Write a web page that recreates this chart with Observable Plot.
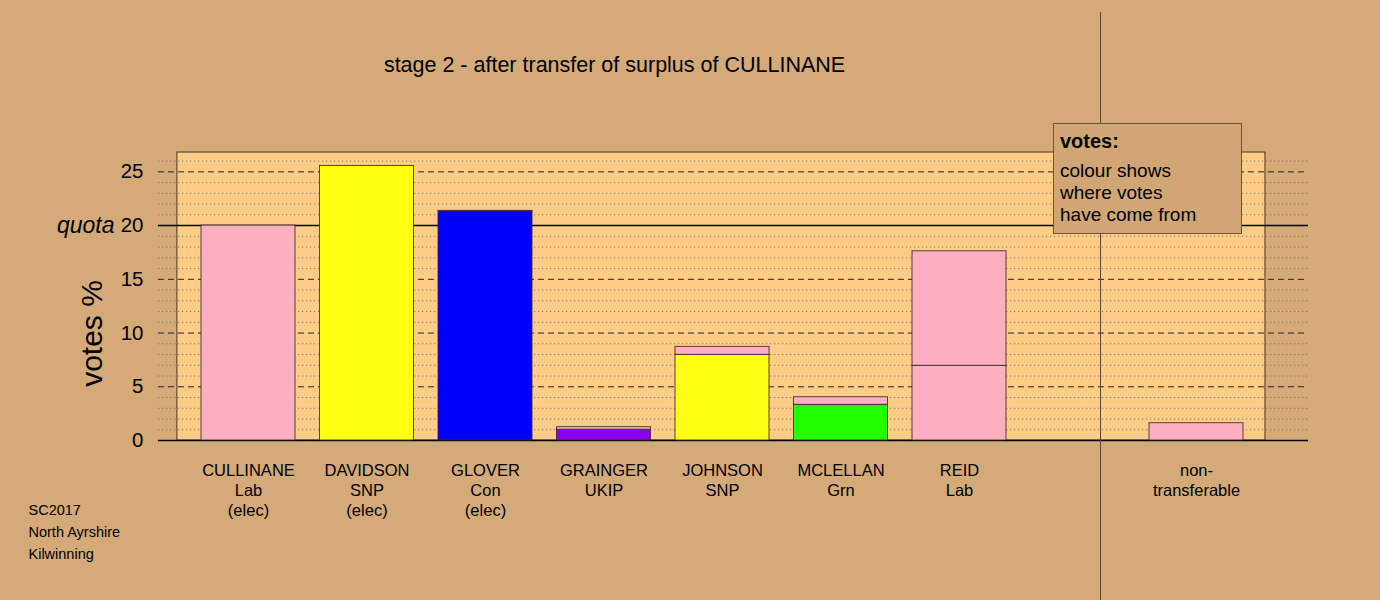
<!DOCTYPE html>
<html><head><meta charset="utf-8">
<script src="https://cdn.jsdelivr.net/npm/d3@7"></script>
<script src="https://cdn.jsdelivr.net/npm/@observablehq/plot@0.6"></script>
<style>
body{margin:0;background:#D4AA78;}
#wrap{position:relative;width:1380px;height:600px;overflow:hidden;}
#legend{position:absolute;left:1053px;top:123px;}
</style></head><body><div id="wrap"></div>
<script>
const title = "stage 2 - after transfer of surplus of CULLINANE";
const candidates = ["CULLINANE","DAVIDSON","GLOVER","GRAINGER","JOHNSON","MCLELLAN","REID","non-"];
const parties = ["Lab","SNP","Con","UKIP","SNP","Grn","Lab","transferable"];
const elected = [true,true,true,false,false,false,false,false];
const positions = [1,2,3,4,5,6,7,9];
const ownVotes = [20.0,25.55,21.33,1.0,7.97,3.32,6.95,0];
const transferVotes = [0,0,0.04,0.24,0.74,0.71,10.66,1.61];
const ownColours = ["#FFB0C0","#FFFF11","#0000FF","#8800EE","#FFFF11","#22FF00","#FFB0C0","#FFB0C0"];
const transferColour = "#FFB0C0";
const yTicks = [0,5,10,15,20,25];
const quota = 20;
const yMinorGrid = [1,2,3,4,6,7,8,9,11,12,13,14,16,17,18,19,21,22,23,24,26];
const yDashedGrid = [5,10,15,25];
const ySolidGrid = [0,20];
const dividerPos = 8.19;
const caption = ["SC2017","North Ayrshire","Kilwinning"];
const legendTitle = "votes:";
const legendLines = ["colour shows","where votes","have come from"];

const segments = [];
candidates.forEach((c,i)=>{
  if (ownVotes[i] > 0) segments.push({x: positions[i], y1: 0, y2: ownVotes[i], fill: ownColours[i]});
  if (transferVotes[i] > 0) segments.push({x: positions[i], y1: ownVotes[i], y2: ownVotes[i]+transferVotes[i], fill: transferColour});
});
const labels = candidates.map((c,i)=> c + "\n" + parties[i] + (elected[i] ? "\n(elec)" : ""));
const idx = d3.range(candidates.length);
const half = 0.3966;
const panel = [{x1: 0.4, x2: 9.582, y1: 0, y2: 26.8}];
const gx1 = 0.24, gx2 = 9.945;
const font = "Liberation Sans, Arial, sans-serif";

const chart = Plot.plot({
  width: 1380, height: 600,
  marginLeft: 0, marginRight: 0, marginTop: 12, marginBottom: 0,
  style: {background: "#D4AA78", fontFamily: font, color: "#000", overflow: "visible"},
  x: {domain: [-1.0928, 10.5527], axis: null},
  y: {domain: [-14.889, 39.83], axis: null},
  color: {type: "identity"},
  marks: [
    Plot.rect(panel, {x1: "x1", x2: "x2", y1: "y1", y2: "y2", fill: "#FFCC88", stroke: "#4a3422", strokeWidth: 1}),
    Plot.ruleY(yMinorGrid, {x1: gx1, x2: gx2, stroke: "#7d6850", strokeDasharray: "1.3,2.7", strokeOpacity: 0.85}),
    Plot.ruleY(yDashedGrid, {x1: gx1, x2: gx2, stroke: "#2a1f15", strokeDasharray: "6,4", strokeWidth: 1}),
    Plot.ruleY(ySolidGrid, {x1: gx1, x2: gx2, stroke: "#000", strokeWidth: 1.5}),
    Plot.ruleX([dividerPos], {stroke: "#5a4530", strokeWidth: 1}),
    Plot.rect(segments, {x1: d=>d.x-half, x2: d=>d.x+half, y1: "y1", y2: "y2", fill: "fill", stroke: "#3a2626", strokeOpacity: 0.85, strokeWidth: 1}),
    Plot.text([title], {frameAnchor: "top-left", dx: 614, dy: 59.7, lineAnchor: "bottom", textAnchor: "middle", fontSize: 21.5}),
    Plot.text(yTicks, {y: d=>d, text: d=>String(d), frameAnchor: "left", dx: 143, textAnchor: "end", fontSize: 20.5}),
    Plot.text([quota], {y: d=>d, text: ()=>"quota", frameAnchor: "left", dx: 114, textAnchor: "end", fontSize: 23, fontStyle: "italic"}),
    Plot.text(["votes %"], {frameAnchor: "left", dx: 101, dy: 27, rotate: -90, lineAnchor: "bottom", textAnchor: "middle", fontSize: 30}),
    Plot.text(idx, {x: i=>positions[i], text: i=>labels[i], frameAnchor: "top", dy: 449, lineAnchor: "top", textAnchor: "middle", fontSize: 16.5, lineHeight: 20/16.5}),
    Plot.text([caption.join("\n")], {frameAnchor: "top-left", dx: 28, dy: 487, lineAnchor: "top", textAnchor: "start", fontSize: 14.5, lineHeight: 22/14.5})
  ]
});
const wrap = document.getElementById("wrap");
wrap.appendChild(chart);
const ns = "http://www.w3.org/2000/svg";
const lg = document.createElementNS(ns, "svg");
lg.setAttribute("id", "legend");
lg.setAttribute("width", 190);
lg.setAttribute("height", 112);
lg.setAttribute("font-family", font);
const r = document.createElementNS(ns, "rect");
r.setAttribute("x", 0.5); r.setAttribute("y", 0.5);
r.setAttribute("width", 188); r.setAttribute("height", 110);
r.setAttribute("fill", "#D0A674"); r.setAttribute("stroke", "#6e5238");
lg.appendChild(r);
const t1 = document.createElementNS(ns, "text");
t1.setAttribute("x", 7); t1.setAttribute("y", 25);
t1.setAttribute("font-size", 20); t1.setAttribute("font-weight", "bold");
t1.textContent = legendTitle;
lg.appendChild(t1);
const t2 = document.createElementNS(ns, "text");
t2.setAttribute("font-size", 19);
legendLines.forEach((s, i) => {
  const ts = document.createElementNS(ns, "tspan");
  ts.setAttribute("x", 7);
  if (i === 0) ts.setAttribute("y", 54); else ts.setAttribute("dy", 22);
  ts.textContent = s;
  t2.appendChild(ts);
});
lg.appendChild(t2);
wrap.appendChild(lg);
</script></body></html>
